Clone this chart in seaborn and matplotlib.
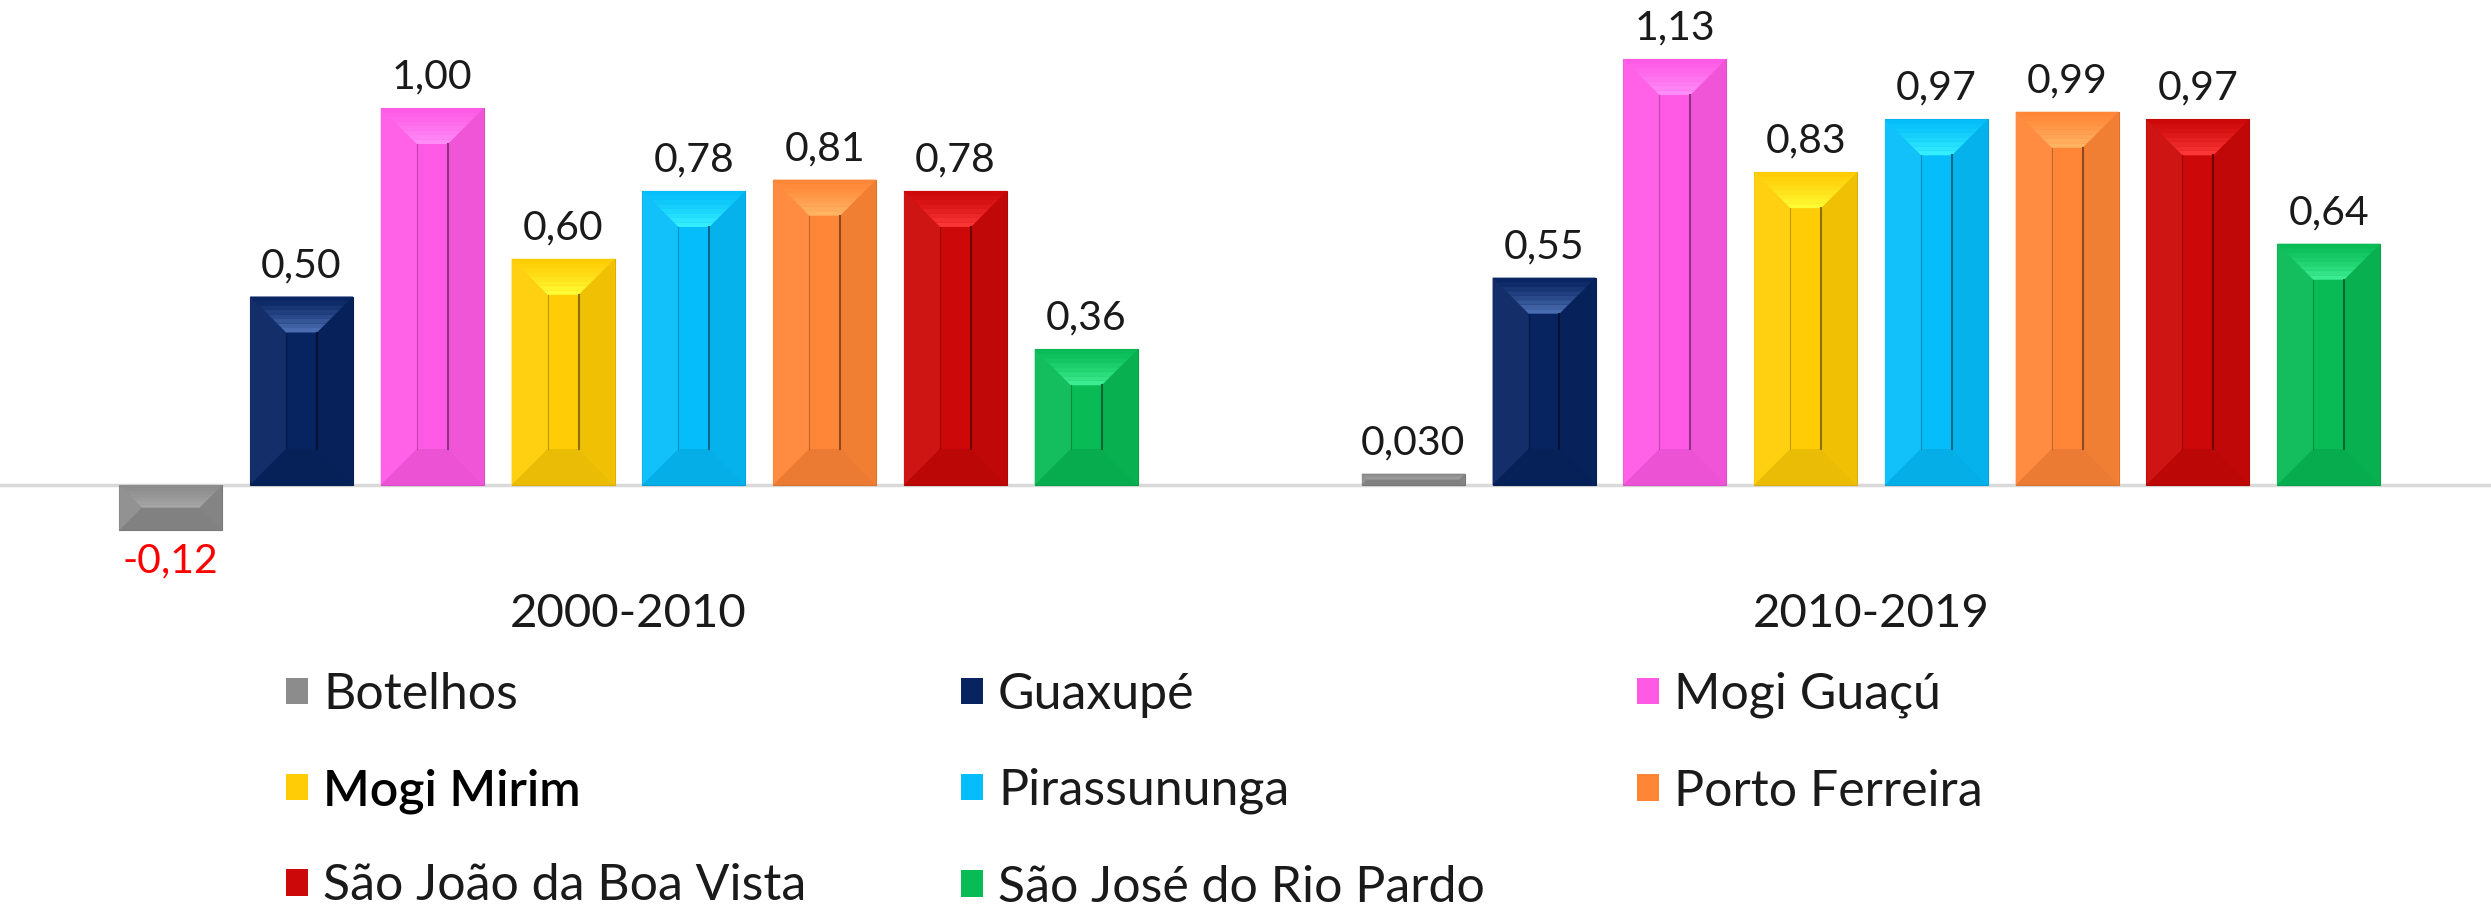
import matplotlib
matplotlib.use('Agg')
import matplotlib.pyplot as plt
import matplotlib.colors as mcolors
from matplotlib.patches import Polygon, Patch
import pandas as pd
import seaborn as sns

# data
periods = ['2000-2010', '2010-2019']
cities = ['Botelhos', 'Guaxupé', 'Mogi Guaçú', 'Mogi Mirim', 'Pirassununga',
          'Porto Ferreira', 'São João da Boa Vista', 'São José do Rio Pardo']
values_2000_2010 = [-0.12, 0.50, 1.00, 0.60, 0.78, 0.81, 0.78, 0.36]
values_2010_2019 = [0.030, 0.55, 1.13, 0.83, 0.97, 0.99, 0.97, 0.64]
labels_2000_2010 = ['-0,12', '0,50', '1,00', '0,60', '0,78', '0,81', '0,78', '0,36']
labels_2010_2019 = ['0,030', '0,55', '1,13', '0,83', '0,97', '0,99', '0,97', '0,64']

colors = ['#8c8c8c', '#072360', '#ff5ae6', '#ffcc05', '#05bdfa', '#ff8636', '#cc0808', '#08bb55']
highlights = ['#a8a8a8', '#5074b8', '#ff90f8', '#ffff38', '#38f2ff', '#ffb868', '#ff3a3a', '#40f095']

df = pd.DataFrame({
    'period': [periods[0]] * len(cities) + [periods[1]] * len(cities),
    'city': cities * 2,
    'value': values_2000_2010 + values_2010_2019,
})

W, H = 2491, 910
fig = plt.figure(figsize=(W / 100, H / 100), dpi=100)
ymin, ymax = -0.25, 1.25
base_px, unit_px = 485, 377
top_px = base_px - ymax * unit_px
bot_px = base_px - ymin * unit_px
ax = fig.add_axes([0, (H - bot_px) / H, 1, (bot_px - top_px) / H])

sns.barplot(data=df, x='period', y='value', hue='city', hue_order=cities,
            palette=colors, saturation=1, width=0.842, gap=0.213,
            legend=False, ax=ax, zorder=2, errorbar=None)

ax.set_xlim(-0.5058, 1.499)
ax.set_ylim(ymin, ymax)
ax.axhline(0, color='#d9d9d9', lw=2.5, zorder=1)
for s in ax.spines.values():
    s.set_visible(False)
ax.set_yticks([])
ax.set_xlabel('')
ax.set_ylabel('')
ax.tick_params(axis='x', length=0, pad=10, labelsize=34, labelcolor='#1a1a1a')
for t in ax.get_xticklabels():
    t.set_fontfamily('Lato')

# bevel look, built from the bars seaborn drew
px_x = ax.bbox.width / (ax.get_xlim()[1] - ax.get_xlim()[0])
px_y = ax.bbox.height / (ymax - ymin)


def mix(c, other, f):
    a = mcolors.to_rgb(c)
    b = mcolors.to_rgb(other)
    return tuple(a[i] * (1 - f) + b[i] * f for i in range(3))


for i, cont in enumerate(ax.containers):
    base = colors[i]
    for bar in cont:
        bar.set_edgecolor(mix(base, 'black', 0.15))
        bar.set_linewidth(0.8)
        x0 = bar.get_x()
        x1 = x0 + bar.get_width()
        y0, y1 = sorted([bar.get_y(), bar.get_y() + bar.get_height()])
        d = min(0.35 * bar.get_width() * px_x, (y1 - y0) * px_y / 2)
        dx, dy = d / px_x, d / px_y
        polys = [
            ([(x0, y0), (x0, y1), (x0 + dx, y1 - dy), (x0 + dx, y0 + dy)], mix(base, 'white', 0.05)),
            ([(x1, y0), (x1, y1), (x1 - dx, y1 - dy), (x1 - dx, y0 + dy)], mix(base, 'black', 0.06)),
            ([(x0, y0), (x1, y0), (x1 - dx, y0 + dy), (x0 + dx, y0 + dy)], mix(base, 'black', 0.08)),
        ]
        for pts, c in polys:
            ax.add_patch(Polygon(pts, closed=True, facecolor=c, lw=0, zorder=2.1))
        n = 8
        for k in range(n):
            t0, t1 = k / n, (k + 1) / n
            c = mix(base, highlights[i], ((t0 + t1) / 2) ** 1.3)
            pts = [(x0 + t0 * dx, y1 - t0 * dy), (x1 - t0 * dx, y1 - t0 * dy),
                   (x1 - t1 * dx, y1 - t1 * dy), (x0 + t1 * dx, y1 - t1 * dy)]
            ax.add_patch(Polygon(pts, closed=True, facecolor=c, lw=0, zorder=2.2))
        if y1 - y0 > 2 * dy:
            ax.plot([x0 + dx, x0 + dx], [y0 + dy, y1 - dy], color=mix(base, 'black', 0.25), lw=0.8, zorder=2.3)
            ax.plot([x1 - dx, x1 - dx], [y0 + dy, y1 - dy], color=mix(base, 'black', 0.45), lw=1.5, zorder=2.3)

# value labels
for i, cont in enumerate(ax.containers):
    labs = [labels_2000_2010[i], labels_2010_2019[i]]
    texts = ax.bar_label(cont, labels=labs, padding=9, fontsize=29.5,
                         fontfamily='Lato', color='#1a1a1a')
    for t, v in zip(texts, [values_2000_2010[i], values_2010_2019[i]]):
        if v < 0:
            t.set_color('#ff0000')

# legend: three columns, row-major like the original
col_x = [286, 961, 1637]
columns = [[0, 3, 6], [1, 4, 7], [2, 5]]
for cx, idx in zip(col_x, columns):
    handles = [Patch(facecolor=colors[j], edgecolor='none') for j in idx]
    leg = fig.legend(handles, [cities[j] for j in idx], loc='upper left',
                     bbox_to_anchor=(cx / W, (H - 672) / H), frameon=False,
                     borderpad=0, borderaxespad=0, handlelength=0.44, handleheight=0.44,
                     handletextpad=0.3, labelspacing=1.0,
                     prop={'family': 'Lato', 'size': 36})
    for t in leg.get_texts():
        t.set_color('#1a1a1a')
        if t.get_text() == 'Mogi Mirim':
            t.set_fontweight('semibold')
            t.set_color('black')

fig.savefig('out.png', dpi=100, facecolor='white')
